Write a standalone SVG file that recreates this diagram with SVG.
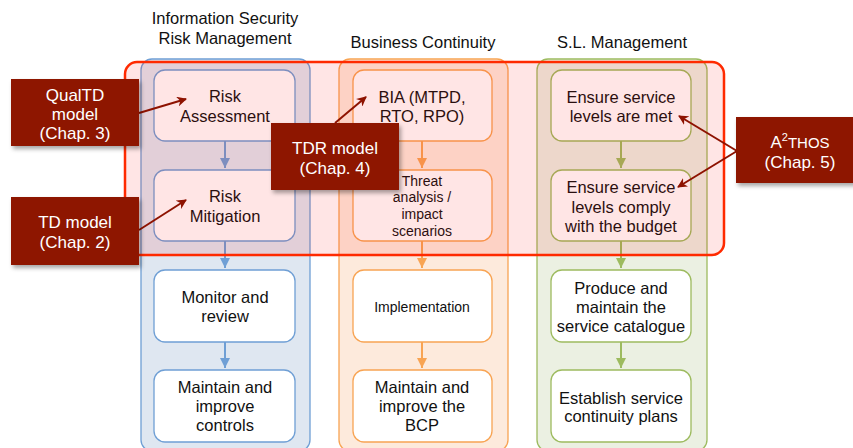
<svg xmlns="http://www.w3.org/2000/svg" width="853" height="448" viewBox="0 0 853 448">
<defs>
<style>
.t{font-family:"Liberation Sans",Arial,sans-serif;font-size:16.5px;fill:#111;text-anchor:middle}
.s{font-size:14px}
.w{fill:#fff;font-size:17px}
.lane{stroke-width:1.3}
.node{fill:#fff;stroke-width:1.3}
.b{stroke:#6f9fd5}
.o{stroke:#f8a453}
.g{stroke:#9dbb5f}
.cb{fill:#8e1200;filter:url(#sh)}
.ca{stroke:#8e1200;stroke-width:2;fill:none;marker-end:url(#ah)}
.con{stroke-width:2;fill:none}
</style>
<filter id="sh" x="-20%" y="-20%" width="150%" height="160%">
<feDropShadow dx="2" dy="3" stdDeviation="2" flood-color="#000" flood-opacity="0.35"/>
</filter>
<marker id="ah" viewBox="0 0 10 10" refX="9" refY="5" markerWidth="5" markerHeight="5" orient="auto" markerUnits="strokeWidth">
<path d="M0,0 L10,5 L0,10 L3,5 Z" fill="#8e1200"/>
</marker>
<marker id="mb" viewBox="0 0 10 10" refX="10" refY="5" markerWidth="5" markerHeight="5" orient="auto" markerUnits="strokeWidth">
<path d="M0,0 L10,5 L0,10 Z" fill="#6f9fd5"/>
</marker>
<marker id="mo" viewBox="0 0 10 10" refX="10" refY="5" markerWidth="5" markerHeight="5" orient="auto" markerUnits="strokeWidth">
<path d="M0,0 L10,5 L0,10 Z" fill="#f8a453"/>
</marker>
<marker id="mg" viewBox="0 0 10 10" refX="10" refY="5" markerWidth="5" markerHeight="5" orient="auto" markerUnits="strokeWidth">
<path d="M0,0 L10,5 L0,10 Z" fill="#9dbb5f"/>
</marker>
</defs>
<rect width="853" height="448" fill="#fff"/>

<g id="titles">
<text class="t" x="225" y="24">Information Security</text>
<text class="t" x="225" y="44">Risk Management</text>
<text class="t" x="423" y="48">Business Continuity</text>
<text class="t" x="622" y="48">S.L. Management</text>
</g>

<g id="lanes">
<rect id="lane-isrm" class="lane b" x="141" y="59" width="169" height="392" rx="11" fill="#dfe7f1"/>
<rect id="lane-bc" class="lane o" x="339" y="59" width="169" height="392" rx="11" fill="#fdeadc"/>
<rect id="lane-sl" class="lane g" x="537" y="59" width="170" height="392" rx="11" fill="#ebf0e2"/>
</g>

<g id="connectors">
<path class="con b" d="M225,141 V168" marker-end="url(#mb)"/>
<path class="con b" d="M225,241 V268" marker-end="url(#mb)"/>
<path class="con b" d="M225,342 V368" marker-end="url(#mb)"/>
<path class="con o" d="M422,141 V168" marker-end="url(#mo)"/>
<path class="con o" d="M422,241 V268" marker-end="url(#mo)"/>
<path class="con o" d="M422,342 V368" marker-end="url(#mo)"/>
<path class="con g" d="M621,141 V168" marker-end="url(#mg)"/>
<path class="con g" d="M621,241 V268" marker-end="url(#mg)"/>
<path class="con g" d="M621,342 V368" marker-end="url(#mg)"/>
</g>

<g id="n-risk-assessment">
<rect class="node b" x="154" y="70" width="141" height="71" rx="11"/>
<text class="t" x="225" y="102">Risk</text>
<text class="t" x="225" y="122">Assessment</text>
</g>
<g id="n-risk-mitigation">
<rect class="node b" x="154" y="170" width="141" height="71" rx="11"/>
<text class="t" x="225" y="202">Risk</text>
<text class="t" x="225" y="222">Mitigation</text>
</g>
<g id="n-monitor">
<rect class="node b" x="154" y="270" width="141" height="72" rx="11"/>
<text class="t" x="225" y="303">Monitor and</text>
<text class="t" x="225" y="322">review</text>
</g>
<g id="n-maintain-controls">
<rect class="node b" x="154" y="370" width="141" height="72" rx="11"/>
<text class="t" x="225" y="393">Maintain and</text>
<text class="t" x="225" y="412">improve</text>
<text class="t" x="225" y="431">controls</text>
</g>

<g id="n-bia">
<rect class="node o" x="353" y="70" width="139" height="71" rx="11"/>
<text class="t" x="422" y="103">BIA (MTPD,</text>
<text class="t" x="422" y="122">RTO, RPO)</text>
</g>
<g id="n-threat">
<rect class="node o" x="353" y="170" width="139" height="71" rx="11"/>
<text class="t s" x="422" y="186">Threat</text>
<text class="t s" x="422" y="202">analysis /</text>
<text class="t s" x="422" y="219">impact</text>
<text class="t s" x="422" y="236">scenarios</text>
</g>
<g id="n-implementation">
<rect class="node o" x="353" y="270" width="139" height="72" rx="11"/>
<text class="t s" x="422" y="312">Implementation</text>
</g>
<g id="n-maintain-bcp">
<rect class="node o" x="353" y="370" width="139" height="72" rx="11"/>
<text class="t" x="422" y="393">Maintain and</text>
<text class="t" x="422" y="412">improve the</text>
<text class="t" x="422" y="431">BCP</text>
</g>

<g id="n-ensure-met">
<rect class="node g" x="551" y="70" width="140" height="71" rx="11"/>
<text class="t" x="621" y="103">Ensure service</text>
<text class="t" x="621" y="122">levels are met</text>
</g>
<g id="n-ensure-budget">
<rect class="node g" x="551" y="170" width="140" height="71" rx="11"/>
<text class="t" x="621" y="193">Ensure service</text>
<text class="t" x="621" y="213">levels comply</text>
<text class="t" x="621" y="232">with the budget</text>
</g>
<g id="n-catalogue">
<rect class="node g" x="551" y="270" width="140" height="72" rx="11"/>
<text class="t" x="621" y="294">Produce and</text>
<text class="t" x="621" y="313">maintain the</text>
<text class="t" x="621" y="332">service catalogue</text>
</g>
<g id="n-continuity">
<rect class="node g" x="551" y="370" width="140" height="72" rx="11"/>
<text class="t" x="621" y="404">Establish service</text>
<text class="t" x="621" y="422">continuity plans</text>
</g>

<g id="highlight">
<rect x="125" y="62" width="599" height="193" rx="12" fill="#ff0000" fill-opacity="0.1" stroke="#ff2a00" stroke-width="2.5"/>
</g>

<g id="callout-arrows">
<path class="ca" d="M139,113 L186,99"/>
<path class="ca" d="M139,230 L186,200"/>
<path class="ca" d="M335,123 L366,97"/>
<path class="ca" d="M737,151 L679,116"/>
<path class="ca" d="M737,151 L678,187"/>
</g>

<g id="c-qualtd">
<rect class="cb" x="11" y="79" width="128" height="67"/>
<text class="t w" x="75" y="101">QualTD</text>
<text class="t w" x="75" y="120">model</text>
<text class="t w" x="75" y="139">(Chap. 3)</text>
</g>
<g id="c-td">
<rect class="cb" x="11" y="197" width="128" height="68"/>
<text class="t w" x="75" y="228">TD model</text>
<text class="t w" x="75" y="248">(Chap. 2)</text>
</g>
<g id="c-tdr">
<rect class="cb" x="271" y="123" width="128" height="67"/>
<text class="t w" x="335" y="154">TDR model</text>
<text class="t w" x="335" y="174">(Chap. 4)</text>
</g>
<g id="c-athos">
<rect class="cb" x="736" y="117" width="128" height="66"/>
<text class="t w" x="800" y="148">A<tspan font-size="11" dy="-7">2</tspan><tspan font-size="15" dy="7">THOS</tspan></text>
<text class="t w" x="800" y="168">(Chap. 5)</text>
</g>
</svg>
